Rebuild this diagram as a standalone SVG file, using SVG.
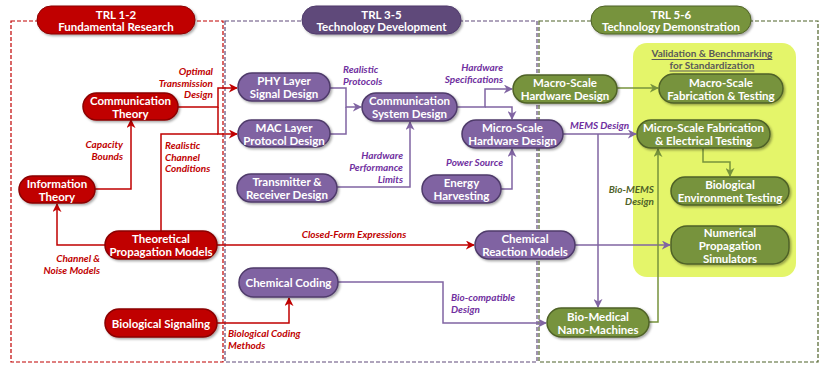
<svg xmlns="http://www.w3.org/2000/svg" width="830" height="371" viewBox="0 0 830 371">
<defs>
<filter id="sh" x="-10%" y="-20%" width="130%" height="150%">
<feDropShadow dx="1.5" dy="1.5" stdDeviation="1" flood-color="#000" flood-opacity="0.35"/>
</filter>
<marker id="ar" viewBox="0 0 10 10" refX="9" refY="5" markerWidth="9" markerHeight="9" markerUnits="userSpaceOnUse" orient="auto"><path d="M0,0 L10,5 L0,10 L3,5 Z" fill="#C00000"/></marker>
<marker id="ap" viewBox="0 0 10 10" refX="9" refY="5" markerWidth="9" markerHeight="9" markerUnits="userSpaceOnUse" orient="auto"><path d="M0,0 L10,5 L0,10 L3,5 Z" fill="#8064A2"/></marker>
<marker id="ag" viewBox="0 0 10 10" refX="9" refY="5" markerWidth="9" markerHeight="9" markerUnits="userSpaceOnUse" orient="auto"><path d="M0,0 L10,5 L0,10 L3,5 Z" fill="#77933C"/></marker>
</defs>
<style>
text{font-family:Lato,"Open Sans","Liberation Sans",sans-serif;}
.nt{fill:#fff;font-weight:bold;font-size:11.5px;text-anchor:middle;dominant-baseline:central;}
.rn{fill:#C00000;stroke:#8B0000;stroke-width:1.5;filter:url(#sh);}
.pn{fill:#8064A2;stroke:#4F3B6B;stroke-width:1.5;filter:url(#sh);}
.gn{fill:#77933C;stroke:#4F6228;stroke-width:1.5;filter:url(#sh);}
.ph{fill:#5F497A;stroke:#4F3B6B;stroke-width:1;filter:url(#sh);}
.lr,.lp,.lg{fill:none;stroke-width:1.5;}
.lr{stroke:#C00000;}
.lp{stroke:#8064A2;}
.lg{stroke:#77933C;}
.tr,.tp,.tg{font-style:italic;font-weight:bold;font-size:10px;dominant-baseline:central;}
.tr{fill:#C00000;}
.tp{fill:#7030A0;}
.tg{fill:#4F6228;}
.sec{fill:none;stroke-width:1.2;stroke-dasharray:4 2;}
</style>

<g id="sections">
<rect class="sec" x="11" y="21" width="212" height="341" stroke="#C00000"/>
<rect class="sec" x="225" y="21" width="312" height="341" stroke="#604A7B"/>
<rect class="sec" x="539" y="21" width="279" height="341" stroke="#4F6228"/>
<rect x="633" y="43" width="163" height="234" rx="14" fill="#E4F56A"/>
<text x="712" y="53" font-size="10px" font-weight="bold" fill="#595959" text-anchor="middle" dominant-baseline="central" text-decoration="underline">Validation &amp; Benchmarking</text>
<text x="712" y="64.5" font-size="10px" font-weight="bold" fill="#595959" text-anchor="middle" dominant-baseline="central" text-decoration="underline">for Standardization</text>
</g>

<g id="header-trl12">
<rect x="37" y="6" width="158" height="28" rx="14" fill="#C00000" stroke="#8B0000" filter="url(#sh)"/>
<text class="nt" x="116" y="14">TRL 1-2</text>
<text class="nt" x="116" y="26.5">Fundamental Research</text>
</g>
<g id="header-trl35">
<rect class="ph" x="302" y="6" width="159" height="28" rx="14"/>
<text class="nt" x="381.5" y="14">TRL 3-5</text>
<text class="nt" x="381.5" y="26.5">Technology Development</text>
</g>
<g id="header-trl56">
<rect x="591" y="6" width="160" height="28" rx="14" fill="#77933C" stroke="#4F6228" filter="url(#sh)"/>
<text class="nt" x="671" y="14">TRL 5-6</text>
<text class="nt" x="671" y="26.5">Technology Demonstration</text>
</g>

<g id="connectors">
<path class="lr" d="M178,107 H218 V88 H237" marker-end="url(#ar)"/>
<path class="lr" d="M218,107 V134 H237" marker-end="url(#ar)"/>
<path class="lr" d="M161,231 V134 H218"/>
<path class="lr" d="M95,189 H131 V120" marker-end="url(#ar)"/>
<path class="lr" d="M105,245 H57 V204" marker-end="url(#ar)"/>
<path class="lr" d="M217,245 H474" marker-end="url(#ar)"/>
<path class="lr" d="M217,323 H289 V298" marker-end="url(#ar)"/>
<path class="lp" d="M330,88 H346 V107 H361" marker-end="url(#ap)"/>
<path class="lp" d="M330,134 H346 V107"/>
<path class="lp" d="M337,187 H410 V122" marker-end="url(#ap)"/>
<path class="lp" d="M457,107 H485 V89 H512" marker-end="url(#ap)"/>
<path class="lp" d="M485,107 H512 V119" marker-end="url(#ap)"/>
<path class="lp" d="M501,189 H512 V149" marker-end="url(#ap)"/>
<path class="lp" d="M563,134 H636" marker-end="url(#ap)"/>
<path class="lp" d="M598,134 V307" marker-end="url(#ap)"/>
<path class="lp" d="M575,245 H670" marker-end="url(#ap)"/>
<path class="lp" d="M338,282 H443 V323 H546" marker-end="url(#ap)"/>
<path class="lg" d="M617,88 H658" marker-end="url(#ag)"/>
<path class="lg" d="M703,148 V162 H730 V176" marker-end="url(#ag)"/>
<path class="lg" d="M649,322 H658 V149" marker-end="url(#ag)"/>
<text class="tr" text-anchor="end"><tspan x="213" y="71">Optimal</tspan><tspan x="213" y="82.5">Transmission</tspan><tspan x="213" y="94">Design</tspan></text>
<text class="tr" text-anchor="end"><tspan x="123" y="144">Capacity</tspan><tspan x="123" y="155.5">Bounds</tspan></text>
<text class="tr"><tspan x="165" y="145">Realistic</tspan><tspan x="165" y="156.5">Channel</tspan><tspan x="165" y="168">Conditions</tspan></text>
<text class="tr" text-anchor="end"><tspan x="100" y="258">Channel &amp;</tspan><tspan x="100" y="269.5">Noise Models</tspan></text>
<text class="tr" x="354" y="234" text-anchor="middle">Closed-Form Expressions</text>
<text class="tr"><tspan x="228" y="333">Biological Coding</tspan><tspan x="228" y="344.5">Methods</tspan></text>
<text class="tp"><tspan x="343" y="69">Realistic</tspan><tspan x="343" y="80.5">Protocols</tspan></text>
<text class="tp" text-anchor="end"><tspan x="503" y="67">Hardware</tspan><tspan x="503" y="78.5">Specifications</tspan></text>
<text class="tp" text-anchor="end"><tspan x="403" y="155">Hardware</tspan><tspan x="403" y="167">Performance</tspan><tspan x="403" y="179">Limits</tspan></text>
<text class="tp" x="503" y="162" text-anchor="end">Power Source</text>
<text class="tp" x="570" y="125">MEMS Design</text>
<text class="tp"><tspan x="451" y="297">Bio-compatible</tspan><tspan x="451" y="308.5">Design</tspan></text>
<text class="tg" text-anchor="end"><tspan x="654" y="189">Bio-MEMS</tspan><tspan x="654" y="200.5">Design</tspan></text>
</g>

<g id="communication-theory"><rect class="rn" x="83" y="93" width="95" height="27" rx="13.5"/><text class="nt" x="130.5" y="100">Communication</text><text class="nt" x="130.5" y="113">Theory</text></g>
<g id="information-theory"><rect class="rn" x="19" y="176" width="76" height="27" rx="13.5"/><text class="nt" x="57" y="183">Information</text><text class="nt" x="57" y="196">Theory</text></g>
<g id="theoretical-propagation-models"><rect class="rn" x="105" y="231" width="112" height="28" rx="14"/><text class="nt" x="161" y="238.5">Theoretical</text><text class="nt" x="161" y="251.5">Propagation Models</text></g>
<g id="biological-signaling"><rect class="rn" x="105" y="309" width="112" height="28" rx="14"/><text class="nt" x="161" y="323">Biological Signaling</text></g>

<g id="phy-layer"><rect class="pn" x="238" y="73" width="92" height="28" rx="14"/><text class="nt" x="284" y="80.5">PHY Layer</text><text class="nt" x="284" y="93.5">Signal Design</text></g>
<g id="mac-layer"><rect class="pn" x="238" y="120" width="92" height="27" rx="13.5"/><text class="nt" x="284" y="127">MAC Layer</text><text class="nt" x="284" y="140">Protocol Design</text></g>
<g id="transmitter-receiver"><rect class="pn" x="237" y="174" width="100" height="28" rx="14"/><text class="nt" x="287" y="181.5">Transmitter &amp;</text><text class="nt" x="287" y="194.5">Receiver Design</text></g>
<g id="communication-system-design"><rect class="pn" x="362" y="93" width="95" height="28" rx="14"/><text class="nt" x="409.5" y="100.5">Communication</text><text class="nt" x="409.5" y="113.5">System Design</text></g>
<g id="micro-scale-hardware-design"><rect class="pn" x="462" y="120" width="101" height="28" rx="14"/><text class="nt" x="512.5" y="127.5">Micro-Scale</text><text class="nt" x="512.5" y="140.5">Hardware Design</text></g>
<g id="energy-harvesting"><rect class="pn" x="422" y="175" width="79" height="28" rx="14"/><text class="nt" x="461.5" y="182.5">Energy</text><text class="nt" x="461.5" y="195.5">Harvesting</text></g>
<g id="chemical-reaction-models"><rect class="pn" x="475" y="231" width="100" height="28" rx="14"/><text class="nt" x="525" y="238.5">Chemical</text><text class="nt" x="525" y="251.5">Reaction Models</text></g>
<g id="chemical-coding"><rect class="pn" x="239" y="268" width="99" height="29" rx="14.5"/><text class="nt" x="288.5" y="282.5">Chemical Coding</text></g>

<g id="macro-scale-hardware-design"><rect class="gn" x="513" y="75" width="104" height="28" rx="14"/><text class="nt" x="565" y="82.5">Macro-Scale</text><text class="nt" x="565" y="95.5">Hardware Design</text></g>
<g id="macro-scale-fabrication"><rect class="gn" x="659" y="74" width="124" height="29" rx="14.5"/><text class="nt" x="721" y="82">Macro-Scale</text><text class="nt" x="721" y="95">Fabrication &amp; Testing</text></g>
<g id="micro-scale-fabrication"><rect class="gn" x="637" y="120" width="133" height="28" rx="14"/><text class="nt" x="703.5" y="127.5">Micro-Scale Fabrication</text><text class="nt" x="703.5" y="140.5">&amp; Electrical Testing</text></g>
<g id="biological-environment-testing"><rect class="gn" x="671" y="177" width="118" height="28" rx="14"/><text class="nt" x="730" y="184.5">Biological</text><text class="nt" x="730" y="197.5">Environment Testing</text></g>
<g id="numerical-propagation-simulators"><rect class="gn" x="671" y="226" width="118" height="38" rx="16"/><text class="nt" x="730" y="232">Numerical</text><text class="nt" x="730" y="245">Propagation</text><text class="nt" x="730" y="258">Simulators</text></g>
<g id="bio-medical-nano-machines"><rect class="gn" x="547" y="308" width="102" height="29" rx="14.5"/><text class="nt" x="598" y="316">Bio-Medical</text><text class="nt" x="598" y="329">Nano-Machines</text></g>
</svg>
